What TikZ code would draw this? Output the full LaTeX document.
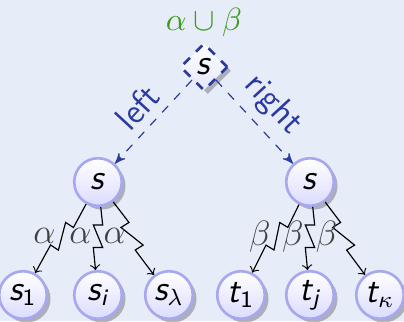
\documentclass[tikz,border=0pt]{standalone}
\usepackage{amsmath}
\usepackage{amssymb}
\usetikzlibrary{shapes.geometric,shadows,calc,arrows}
\renewcommand\familydefault{\sfdefault}
\newcommand\sv[1]{\textsf{\itshape #1}}
\definecolor{bgblue}{HTML}{E6ECF8}
\definecolor{lblblue}{HTML}{2B3A9E}
\definecolor{rimblue}{HTML}{A8A8F0}
\definecolor{lblgreen}{HTML}{3C9A1C}
\tikzset{
  state/.style={circle,draw=rimblue,line width=0.9pt,top color=white,bottom color=blue!14,
    minimum size=0.57cm,inner sep=0pt,font=\large,
    drop shadow={shadow xshift=0.45mm,shadow yshift=-0.45mm,fill=black!60,opacity=0.45}},
  choice/.style={diamond,draw=lblblue,dashed,line width=0.9pt,top color=white,bottom color=blue!10,
    minimum size=0.57cm,inner sep=0pt,font=\large,
    drop shadow={shadow xshift=0.45mm,shadow yshift=-0.45mm,fill=black!60,opacity=0.45}},
  branch/.style={->,>=stealth',lblblue,dashed,thin},
  bolt/.style={->,>=to,black,thin,
    to path={-- ($(\tikztostart)!0.38!(\tikztotarget)!1.6pt!90:(\tikztotarget)$)
      -- ($(\tikztostart)!0.38!(\tikztotarget)!1.6pt!-90:(\tikztotarget)$)
      -- ($(\tikztostart)!0.58!(\tikztotarget)!1.6pt!90:(\tikztotarget)$) \tikztonodes
      -- ($(\tikztostart)!0.58!(\tikztotarget)!1.6pt!-90:(\tikztotarget)$)
      -- (\tikztotarget)}},
  elbl/.style={black!75,inner sep=2pt,font=\large},
  blbl/.style={lblblue,font=\large,inner sep=3pt}
}
\begin{document}
\begin{tikzpicture}[x=0.012cm,y=-0.012cm]
  \fill[bgblue] (0,0) rectangle (404,321);
  \useasboundingbox (0,0) rectangle (404,321);
  % root choice
  \node[choice] (root) at (204,67) {\sv{s}};
  \node[lblgreen,font=\fontsize{11}{13}\selectfont] (union) at (204,22) {$\alpha\cup\beta$};
  % second level
  \node[state] (sl) at (98,182) {\sv{s}};
  \node[state] (sr) at (310,182) {\sv{s}};
  % leaves
  \node[state] (s1) at (23,295) {$\sv{s}_{\textsf{1}}$};
  \node[state] (si) at (98,295) {$\sv{s}_{\sv{i}}$};
  \node[state] (slam) at (169,295) {$\sv{s}_{\lambda}$};
  \node[state] (t1) at (241,295) {$\sv{t}_{\textsf{1}}$};
  \node[state] (tj) at (310,295) {$\sv{t}_{\sv{j}}$};
  \node[state] (tkap) at (380,295) {$\sv{t}_{\kappa}$};
  % branches
  \draw[branch] (root) -- node[midway,sloped,above,blbl] {left} (sl);
  \draw[branch] (root) -- node[midway,sloped,above,blbl] {right} (sr);
  % transitions
  \draw[bolt] (sl) to node[elbl,midway,left] {$\alpha$} (s1);
  \draw[bolt] (sl) to node[elbl,midway,left] {$\alpha$} (si);
  \draw[bolt] (sl) to node[elbl,midway,left] {$\alpha$} (slam);
  \draw[bolt] (sr) to node[elbl,midway,left] {$\beta$} (t1);
  \draw[bolt] (sr) to node[elbl,midway,left] {$\beta$} (tj);
  \draw[bolt] (sr) to node[elbl,midway,left] {$\beta$} (tkap);
\end{tikzpicture}
\end{document}
